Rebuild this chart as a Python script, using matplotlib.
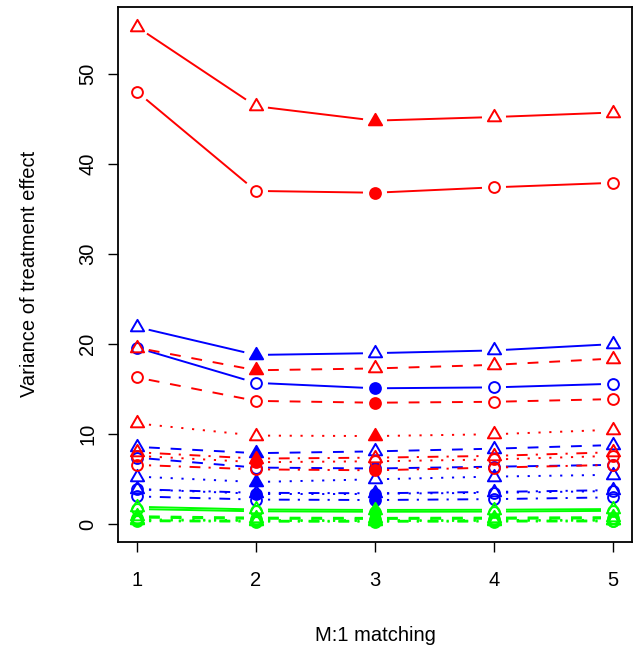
import numpy as np
import matplotlib
matplotlib.use("Agg")
import matplotlib.pyplot as plt
from matplotlib.path import Path

plt.rcParams["font.family"] = ["Liberation Sans", "DejaVu Sans"]
plt.rcParams["lines.scale_dashes"] = False

x = [1, 2, 3, 4, 5]

# red group
red_tri_solid = [55.2, 46.4, 44.8, 45.2, 45.7]
red_circ_solid = [48.0, 37.0, 36.8, 37.4, 37.9]
red_tri_dashed = [19.6, 17.1, 17.3, 17.7, 18.4]
red_circ_dashed = [16.3, 13.7, 13.5, 13.6, 13.9]
red_tri_dotted = [11.2, 9.85, 9.8, 10.0, 10.5]
red_circ_dotted = [7.6, 6.9, 7.0, 7.2, 7.6]
red_tri_dotdash = [8.0, 7.3, 7.4, 7.6, 8.0]
red_circ_dotdash = [6.6, 6.1, 6.0, 6.3, 6.6]

# blue group
blue_tri_solid = [21.9, 18.8, 19.0, 19.3, 20.0]
blue_circ_solid = [19.6, 15.7, 15.1, 15.2, 15.6]
blue_tri_dashed = [8.6, 7.9, 8.1, 8.4, 8.8]
blue_circ_dashed = [7.4, 6.3, 6.2, 6.4, 6.6]
blue_tri_dotted = [5.3, 4.7, 5.0, 5.3, 5.5]
blue_circ_dotted = [3.9, 3.4, 3.4, 3.5, 3.7]
blue_tri_dotdash = [3.9, 3.5, 3.45, 3.6, 3.8]
blue_circ_dotdash = [3.1, 2.75, 2.7, 2.8, 3.0]

# green group
green_tri_solid = [1.95, 1.65, 1.6, 1.62, 1.7]
green_circ_solid = [1.7, 1.45, 1.4, 1.42, 1.5]
green_tri_dashed = [0.9, 0.75, 0.72, 0.75, 0.8]
green_circ_dashed = [0.75, 0.62, 0.6, 0.62, 0.66]
green_tri_dotted = [0.55, 0.47, 0.46, 0.48, 0.5]
green_circ_dotted = [0.45, 0.38, 0.37, 0.39, 0.41]
green_tri_dotdash = [0.45, 0.4, 0.39, 0.41, 0.43]
green_circ_dotdash = [0.35, 0.3, 0.29, 0.31, 0.33]

u = 1.95  # dash unit in points
ltys = {
    "solid": "-",
    "dashed": (0, (4 * u, 4 * u)),
    "dotted": (0, (0.8 * u, 3.2 * u)),
    "dotdash": (0, (0.8 * u, 3.2 * u, 4 * u, 3 * u)),
}

series = [
    ("blue", "tri", "solid", blue_tri_solid), ("blue", "circ", "solid", blue_circ_solid),
    ("blue", "tri", "dashed", blue_tri_dashed), ("blue", "circ", "dashed", blue_circ_dashed),
    ("blue", "tri", "dotted", blue_tri_dotted), ("blue", "circ", "dotted", blue_circ_dotted),
    ("blue", "tri", "dotdash", blue_tri_dotdash), ("blue", "circ", "dotdash", blue_circ_dotdash),
    ("red", "tri", "solid", red_tri_solid), ("red", "circ", "solid", red_circ_solid),
    ("red", "tri", "dashed", red_tri_dashed), ("red", "circ", "dashed", red_circ_dashed),
    ("red", "tri", "dotted", red_tri_dotted), ("red", "circ", "dotted", red_circ_dotted),
    ("red", "tri", "dotdash", red_tri_dotdash), ("red", "circ", "dotdash", red_circ_dotdash),
    ("#00FF00", "tri", "solid", green_tri_solid), ("#00FF00", "circ", "solid", green_circ_solid),
    ("#00FF00", "tri", "dashed", green_tri_dashed), ("#00FF00", "circ", "dashed", green_circ_dashed),
    ("#00FF00", "tri", "dotted", green_tri_dotted), ("#00FF00", "circ", "dotted", green_circ_dotted),
    ("#00FF00", "tri", "dotdash", green_tri_dotdash), ("#00FF00", "circ", "dotdash", green_circ_dotdash),
]

# open triangle like R's pch 2 (closed outline)
tri_marker = Path([(-1, -0.577), (1, -0.577), (0, 1.155), (-1, -0.577)],
                  [Path.MOVETO, Path.LINETO, Path.LINETO, Path.CLOSEPOLY])

fig = plt.figure(figsize=(6.41, 6.47), dpi=100)
ax = fig.add_axes([0.184, 0.163, 0.802, 0.826])

all_vals = np.concatenate([s[3] for s in series])
lo, hi = all_vals.min(), all_vals.max()
pad = 0.04 * (hi - lo)
ax.set_xlim(1 - 0.16, 5 + 0.16)
ax.set_ylim(lo - pad, hi + pad)

gap = 12.0  # pixels left open around each point
to_px = ax.transData
to_data = ax.transData.inverted()

for col, shape, lty, vals in series:
    pts = to_px.transform(np.column_stack([x, vals]))
    for i in range(len(x) - 1):
        p0, p1 = pts[i], pts[i + 1]
        d = p1 - p0
        L = np.hypot(*d)
        if L <= 2 * gap:
            continue
        a = p0 + d * gap / L
        b = p1 - d * gap / L
        seg = to_data.transform(np.vstack([a, b]))
        ax.plot(seg[:, 0], seg[:, 1], color=col, lw=1.4, linestyle=ltys[lty],
                solid_capstyle="butt", dash_capstyle="butt")
    imin = int(np.argmin(vals))
    mk = tri_marker if shape == "tri" else "o"
    ms = 11 if shape == "tri" else 7.8
    for i, v in enumerate(vals):
        face = col if i == imin else "none"
        ax.plot(x[i], v, marker=mk, ms=ms, mfc=face, mec=col, mew=1.4,
                linestyle="none", zorder=3)

ax.set_xticks(x)
ax.set_yticks([0, 10, 20, 30, 40, 50])
ax.tick_params(axis="both", direction="out", length=7, width=1, labelsize=14.5)
ax.tick_params(axis="x", pad=14)
ax.tick_params(axis="y", pad=8)
for lab in ax.get_yticklabels():
    lab.set_rotation(90)
    lab.set_va("center")
for sp in ax.spines.values():
    sp.set_linewidth(1.3)

ax.set_xlabel("M:1 matching", fontsize=14.5, labelpad=26)
ax.set_ylabel("Variance of treatment effect", fontsize=14.5, labelpad=28)

fig.savefig("out.png", dpi=100)
